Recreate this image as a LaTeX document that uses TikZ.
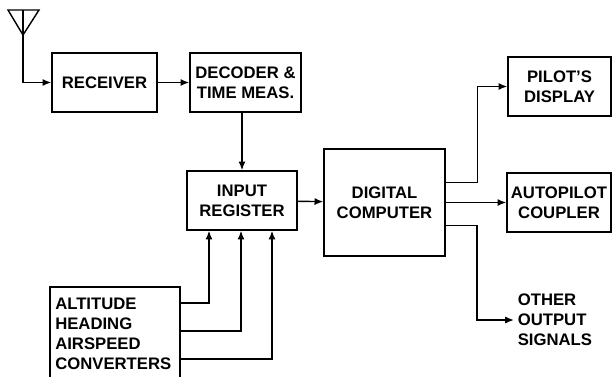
\documentclass[tikz,border=0pt]{standalone}
\usepackage{fontspec}
\setmainfont{Liberation Sans}
\usetikzlibrary{arrows.meta, positioning, calc}

\begin{document}
\begin{tikzpicture}[x=0.02cm, y=-0.02cm,
  blk/.style={draw, thick, align=center, inner sep=2pt,
    font=\bfseries\fontsize{9.5}{11.4}\selectfont},
  arr/.style={thick, -{Latex[length=5pt,width=4pt]}}]
  \useasboundingbox (0,0) rectangle (613,376);
  \clip (0,0) rectangle (613,376);

  % Antenna
  \draw[thick] (8,10) -- (39,10) -- (23,35) -- cycle;
  \draw[thick] (23,10) -- (23,35);
  \coordinate (ant) at (23,35);

  % Boxes
  \node[blk, minimum width=2.1cm, minimum height=1.18cm] (rcv) at (104.5,82.5) {RECEIVER};
  \node[blk, minimum width=2.22cm, minimum height=1.18cm] (dec) at (245.5,82.5) {DECODER \&\\TIME MEAS.};
  \node[blk, minimum width=2.2cm, minimum height=1.18cm] (inreg) at (242,200.5) {INPUT\\REGISTER};
  \node[blk, minimum width=2.42cm, minimum height=2.14cm] (comp) at (384.5,202.5) {DIGITAL\\COMPUTER};
  \node[blk, minimum width=2.06cm, minimum height=1.18cm] (pilot) at (559.5,86.5) {PILOT'S\\DISPLAY};
  \node[blk, minimum width=2.08cm, minimum height=1.18cm] (auto) at (559,202.5) {AUTOPILOT\\COUPLER};
  \node[blk, minimum width=2.6cm, minimum height=1.86cm, inner sep=3pt,
    text width=2.6cm-6pt, align=left] (conv) at (115,333.5)
    {ALTITUDE\\HEADING\\AIRSPEED\\CONVERTERS};
  \node[font=\bfseries\fontsize{9.5}{11.4}\selectfont, align=left, anchor=west,
    inner sep=2pt] (other) at (514,320) {OTHER\\OUTPUT\\SIGNALS};

  % Signal path
  \draw[arr] (ant) |- (rcv.west);
  \draw[arr] (rcv) -- (dec);
  \draw[arr] (inreg.north |- dec.south) -- (inreg.north);
  \draw[arr] (inreg) -- (comp);

  % Sensor inputs
  \foreach \dy/\dx in {-30.5/-33, -2.5/-1, 25.5/30}
    \draw[arr] ($(conv.east)+(0,\dy)$) -| ($(inreg.south)+(\dx,0)$);

  % Outputs
  \draw[arr] ($(comp.east)+(0,-20)$) -| ($(pilot.west)+(-30,0)$) -- (pilot.west);
  \draw[arr] (comp) -- (auto);
  \draw[arr] ($(comp.east)+(0,23)$) -| ($(other.west)+(-37,0)$) -- (other.west);
\end{tikzpicture}
\end{document}
